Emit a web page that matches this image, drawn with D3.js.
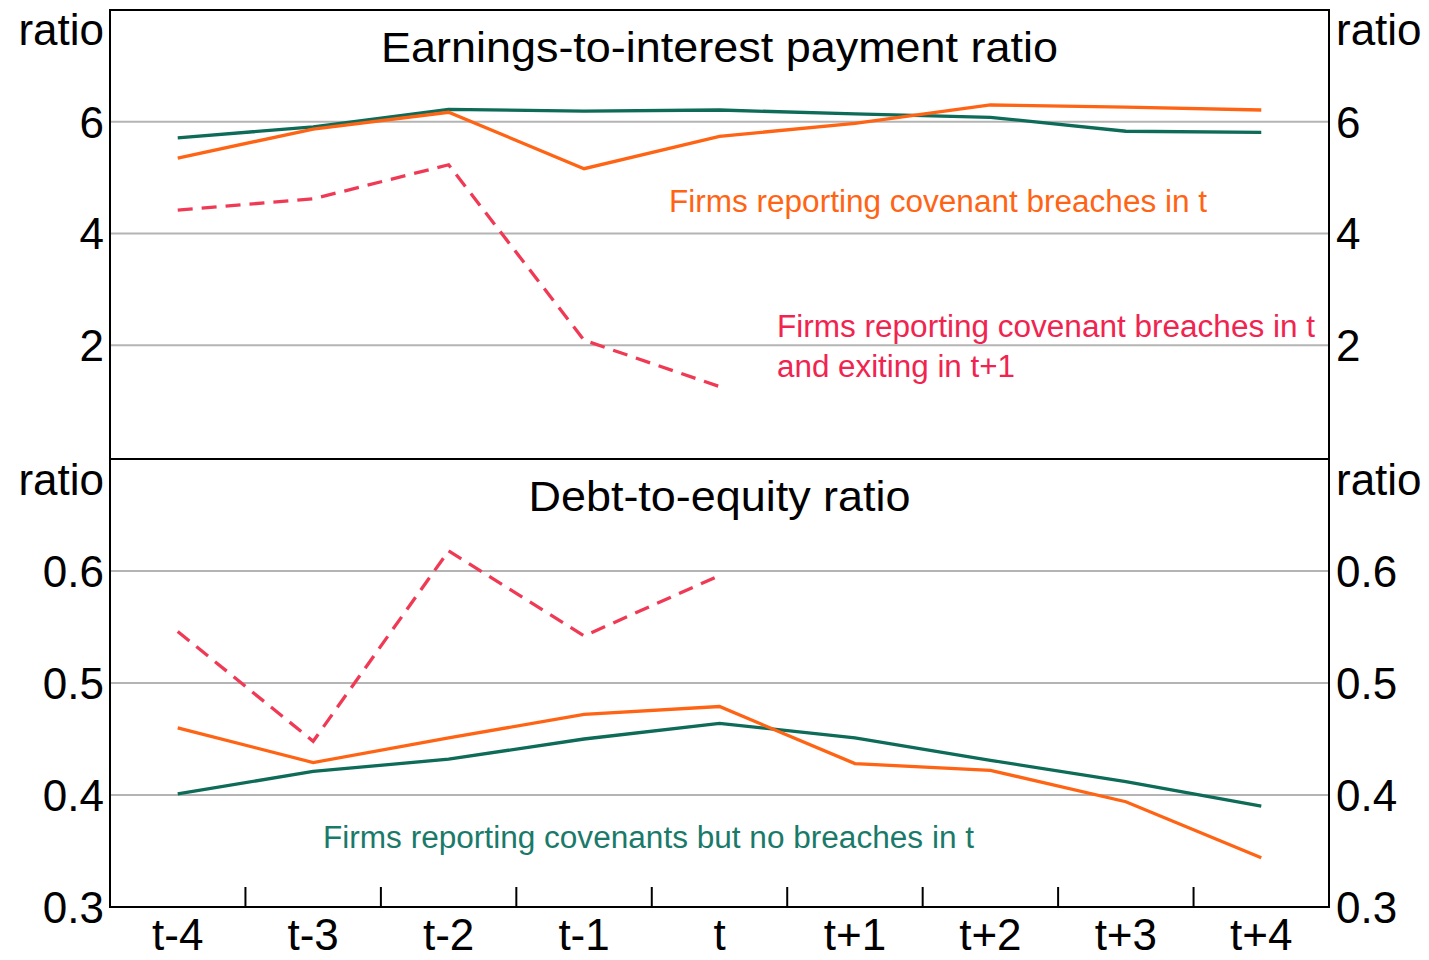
<!DOCTYPE html>
<html><head><meta charset="utf-8">
<script src="https://cdn.jsdelivr.net/npm/d3@7"></script>
<style>html,body{margin:0;padding:0;background:#fff}svg{display:block}text{font-family:"Liberation Sans",Arial,sans-serif}</style>
</head><body>
<svg id="c" width="1429" height="960"></svg>
<script>
const categories = ["t-4","t-3","t-2","t-1","t","t+1","t+2","t+3","t+4"];
// Earnings-to-interest payment ratio
const eirNoBreach = [5.71,5.91,6.22,6.19,6.21,6.14,6.08,5.83,5.81];
const eirBreach   = [5.35,5.87,6.17,5.16,5.74,5.97,6.30,6.26,6.21];
const eirExit     = [4.42,4.62,5.23,2.09,1.26];
// Debt-to-equity ratio
const derNoBreach = [0.401,0.421,0.432,0.450,0.464,0.451,0.431,0.412,0.390];
const derBreach   = [0.460,0.429,0.451,0.472,0.479,0.428,0.422,0.394,0.344];
const derExit     = [0.546,0.448,0.618,0.542,0.596];
const topTicks = [2,4,6];
const botTicks = [0.3,0.4,0.5,0.6];
const titles = ["Earnings-to-interest payment ratio","Debt-to-equity ratio"];
const labelBreach = "Firms reporting covenant breaches in t";
const labelExit = ["Firms reporting covenant breaches in t","and exiting in t+1"];
const labelNoBreach = "Firms reporting covenants but no breaches in t";

const svg = d3.select("#c");
const L=110, R=1329, T=10, M=459, B=907;
const GREEN="#0d6b58", ORANGE="#ff6414", RED="#f03a55";
const FS=44;
const x = d3.scaleBand().domain(categories).range([L,R]).padding(0);
const xc = d => x(d)+x.bandwidth()/2;
const yTop = d3.scaleLinear().domain([0,8]).range([M-2,T]);
const yBot = d3.scaleLinear().domain([0.3,0.7]).range([B,M]);

function panel(y, ticks, fmt, series, title, titleY, titleW, ratioY){
  const g = svg.append("g");
  g.selectAll(".gl").data(ticks.filter(t=>y(t)<y.range()[0]-3)).join("line")
    .attr("x1",L).attr("x2",R).attr("y1",d=>y(d)).attr("y2",d=>y(d))
    .attr("stroke","#b4b4b4").attr("stroke-width",2);
  const lab = g.append("g");
  ticks.forEach(t=>{
    lab.append("text").attr("x",L-6).attr("y",y(t)).attr("dy","0.36em").attr("text-anchor","end")
      .attr("font-size",FS).attr("fill","#000").text(fmt(t));
    lab.append("text").attr("x",R+7).attr("y",y(t)).attr("dy","0.36em").attr("text-anchor","start")
      .attr("font-size",FS).attr("fill","#000").text(fmt(t));
  });
  g.append("text").attr("x",L-6).attr("y",ratioY).attr("text-anchor","end").attr("font-size",FS).text("ratio");
  g.append("text").attr("x",R+7).attr("y",ratioY).attr("text-anchor","start").attr("font-size",FS).text("ratio");
  g.append("text").attr("x",(L+R)/2).attr("y",titleY).attr("text-anchor","middle").attr("font-size",43)
    .attr("textLength",titleW).attr("lengthAdjust","spacingAndGlyphs").text(title);
  series.forEach(s=>{
    const line = d3.line().x((d,i)=>xc(categories[i])).y(d=>y(d));
    g.append("path").datum(s.values).attr("d",line).attr("fill","none")
      .attr("stroke",s.color).attr("stroke-width",3.3)
      .attr("stroke-dasharray",s.dash?"15,9":null).attr("stroke-linejoin","miter");
  });
}

panel(yTop, topTicks, d3.format("d"),
  [{values:eirExit,color:RED,dash:true},{values:eirNoBreach,color:GREEN},{values:eirBreach,color:ORANGE}],
  titles[0], 62, 677, 45);
panel(yBot, botTicks, d3.format(".1f"),
  [{values:derExit,color:RED,dash:true},{values:derNoBreach,color:GREEN},{values:derBreach,color:ORANGE}],
  titles[1], 511, 382, 495);

svg.append("text").attr("x",669).attr("y",212).attr("font-size",31).attr("fill",ORANGE)
  .attr("textLength",538).attr("lengthAdjust","spacingAndGlyphs").text(labelBreach);
svg.append("text").attr("x",777).attr("y",337).attr("font-size",31).attr("fill","#f0244f")
  .attr("textLength",538).attr("lengthAdjust","spacingAndGlyphs").text(labelExit[0]);
svg.append("text").attr("x",777).attr("y",377).attr("font-size",31).attr("fill","#f0244f")
  .attr("textLength",238).attr("lengthAdjust","spacingAndGlyphs").text(labelExit[1]);
svg.append("text").attr("x",323).attr("y",848).attr("font-size",31).attr("fill","#1a7a6a")
  .attr("textLength",651).attr("lengthAdjust","spacingAndGlyphs").text(labelNoBreach);

svg.append("rect").attr("x",L).attr("y",T).attr("width",R-L).attr("height",B-T)
  .attr("fill","none").attr("stroke","#000").attr("stroke-width",2);
svg.append("line").attr("x1",L).attr("x2",R).attr("y1",M).attr("y2",M).attr("stroke","#000").attr("stroke-width",2);

const xAxis = d3.axisBottom(x).tickSize(0).tickPadding(12);
const ax = svg.append("g").attr("transform",`translate(0,${B})`).call(xAxis);
ax.select(".domain").remove();
ax.selectAll("text").attr("font-size",FS).attr("fill","#000").attr("font-family","Liberation Sans, Arial, sans-serif");
svg.append("g").selectAll("line").data(categories.slice(1)).join("line")
  .attr("x1",d=>x(d)).attr("x2",d=>x(d)).attr("y1",B).attr("y2",B-20)
  .attr("stroke","#000").attr("stroke-width",2);
</script>
</body></html>
